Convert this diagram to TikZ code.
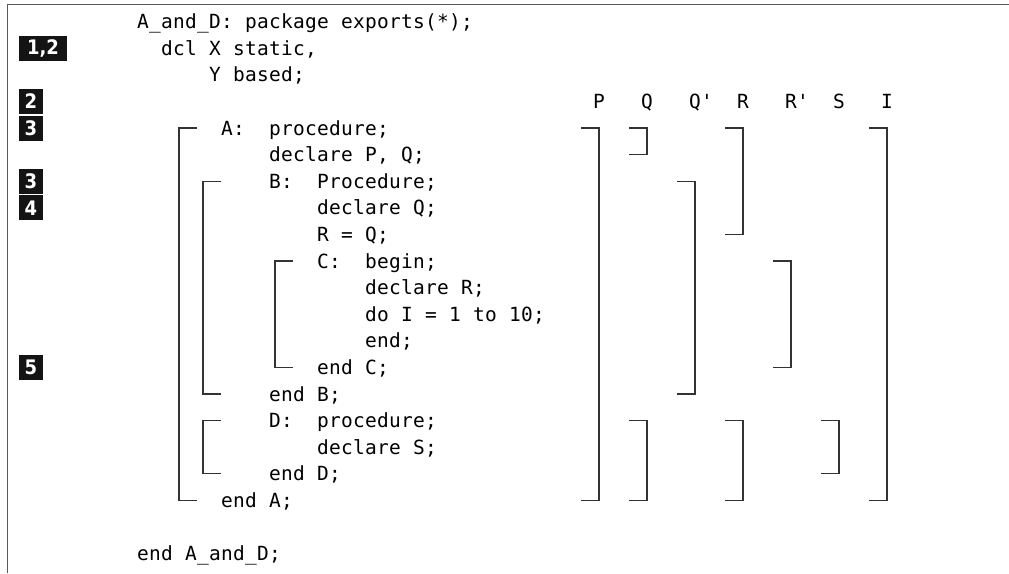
\documentclass[tikz,border=0pt]{standalone}
\usepackage{fontspec}
\setmonofont[LetterSpace=1.3]{DejaVu Sans Mono}
\newfontfamily\badgefont{DejaVu Sans Condensed Bold}
\begin{document}
\begin{tikzpicture}[x=1pt,y=-1pt,
  declare function={cx(\c)=143+12*\c; ry(\r)=21.6+26.6*\r; tx(\c)=137+12*\c;},
  code/.style={anchor=base west,inner sep=0pt,font=\ttfamily\fontsize{19.5}{21}\selectfont,text=black},
  brk/.style={draw=black!80,line width=1.3pt},
  badge/.style={fill=black!92,text=white,inner sep=0pt,minimum height=25pt,font=\badgefont\fontsize{20}{21}\selectfont},
  frame/.style={draw=black!65,line width=1.6pt}]
\useasboundingbox (0,0) rectangle (1009,573);
\draw[frame] (1009,4.5) -- (7.5,4.5) -- (7.5,573);
% code text
\newcommand\Code[4]{\node[code] (#1) at ({tx(#2)},{ry(#3)+7}) {#4};}
\Code{t0a}{0}{0}{A\_and\_D:}\Code{t0b}{9}{0}{package}\Code{t0c}{17}{0}{exports(*);}
\Code{t1a}{2}{1}{dcl}\Code{t1b}{6}{1}{X}\Code{t1c}{8}{1}{static,}
\Code{t2a}{6}{2}{Y}\Code{t2b}{8}{2}{based;}
\Code{hP}{38}{3}{P}\Code{hQ}{42}{3}{Q}\Code{hQp}{46}{3}{Q'}\Code{hR}{50}{3}{R}\Code{hRp}{54}{3}{R'}\Code{hS}{58}{3}{S}\Code{hI}{62}{3}{I}
\Code{t4a}{7}{4}{A:}\Code{t4b}{11}{4}{procedure;}
\Code{t5a}{11}{5}{declare}\Code{t5b}{19}{5}{P,}\Code{t5c}{22}{5}{Q;}
\Code{t6a}{11}{6}{B:}\Code{t6b}{15}{6}{Procedure;}
\Code{t7a}{15}{7}{declare}\Code{t7b}{23}{7}{Q;}
\Code{t8a}{15}{8}{R}\Code{t8b}{17}{8}{=}\Code{t8c}{19}{8}{Q;}
\Code{t9a}{15}{9}{C:}\Code{t9b}{19}{9}{begin;}
\Code{t10a}{19}{10}{declare}\Code{t10b}{27}{10}{R;}
\Code{t11a}{19}{11}{do}\Code{t11b}{22}{11}{I}\Code{t11c}{24}{11}{=}\Code{t11d}{26}{11}{1}\Code{t11e}{28}{11}{to}\Code{t11f}{31}{11}{10;}
\Code{t12a}{19}{12}{end;}
\Code{t13a}{15}{13}{end}\Code{t13b}{19}{13}{C;}
\Code{t14a}{11}{14}{end}\Code{t14b}{15}{14}{B;}
\Code{t15a}{11}{15}{D:}\Code{t15b}{15}{15}{procedure;}
\Code{t16a}{15}{16}{declare}\Code{t16b}{23}{16}{S;}
\Code{t17a}{11}{17}{end}\Code{t17b}{15}{17}{D;}
\Code{t18a}{7}{18}{end}\Code{t18b}{11}{18}{A;}
\Code{t20a}{0}{20}{end}\Code{t20b}{4}{20}{A\_and\_D;}
% badges
\node[badge,minimum width=48pt] (b12) at (43,{ry(1)}) {1,2};
\node[badge,minimum width=24pt] (b2) at (31,{ry(3)}) {2};
\node[badge,minimum width=24pt] (b3a) at (31,{ry(4)}) {3};
\node[badge,minimum width=24pt] (b3b) at (31,{ry(6)}) {3};
\node[badge,minimum width=24pt] (b4) at (31,{ry(7)}) {4};
\node[badge,minimum width=24pt] (b5) at (31,{ry(13)}) {5};
% brackets
\newcommand\LBr[3]{\draw[brk] ({cx(#1)+18},{ry(#2)}) -- ({cx(#1)},{ry(#2)}) -- ({cx(#1)},{ry(#3)}) -- ({cx(#1)+18},{ry(#3)});}
\newcommand\RBr[3]{\draw[brk] ({cx(#1)-18},{ry(#2)}) -- ({cx(#1)},{ry(#2)}) -- ({cx(#1)},{ry(#3)}) -- ({cx(#1)-18},{ry(#3)});}
\LBr{3}{4}{18}
\LBr{5}{6}{14}
\LBr{11}{9}{13}
\LBr{5}{15}{17}
\RBr{38}{4}{18}
\RBr{42}{4}{5}
\RBr{42}{15}{18}
\RBr{46}{6}{14}
\RBr{50}{4}{8}
\RBr{50}{15}{18}
\RBr{54}{9}{13}
\RBr{58}{15}{17}
\RBr{62}{4}{18}
\end{tikzpicture}
\end{document}
